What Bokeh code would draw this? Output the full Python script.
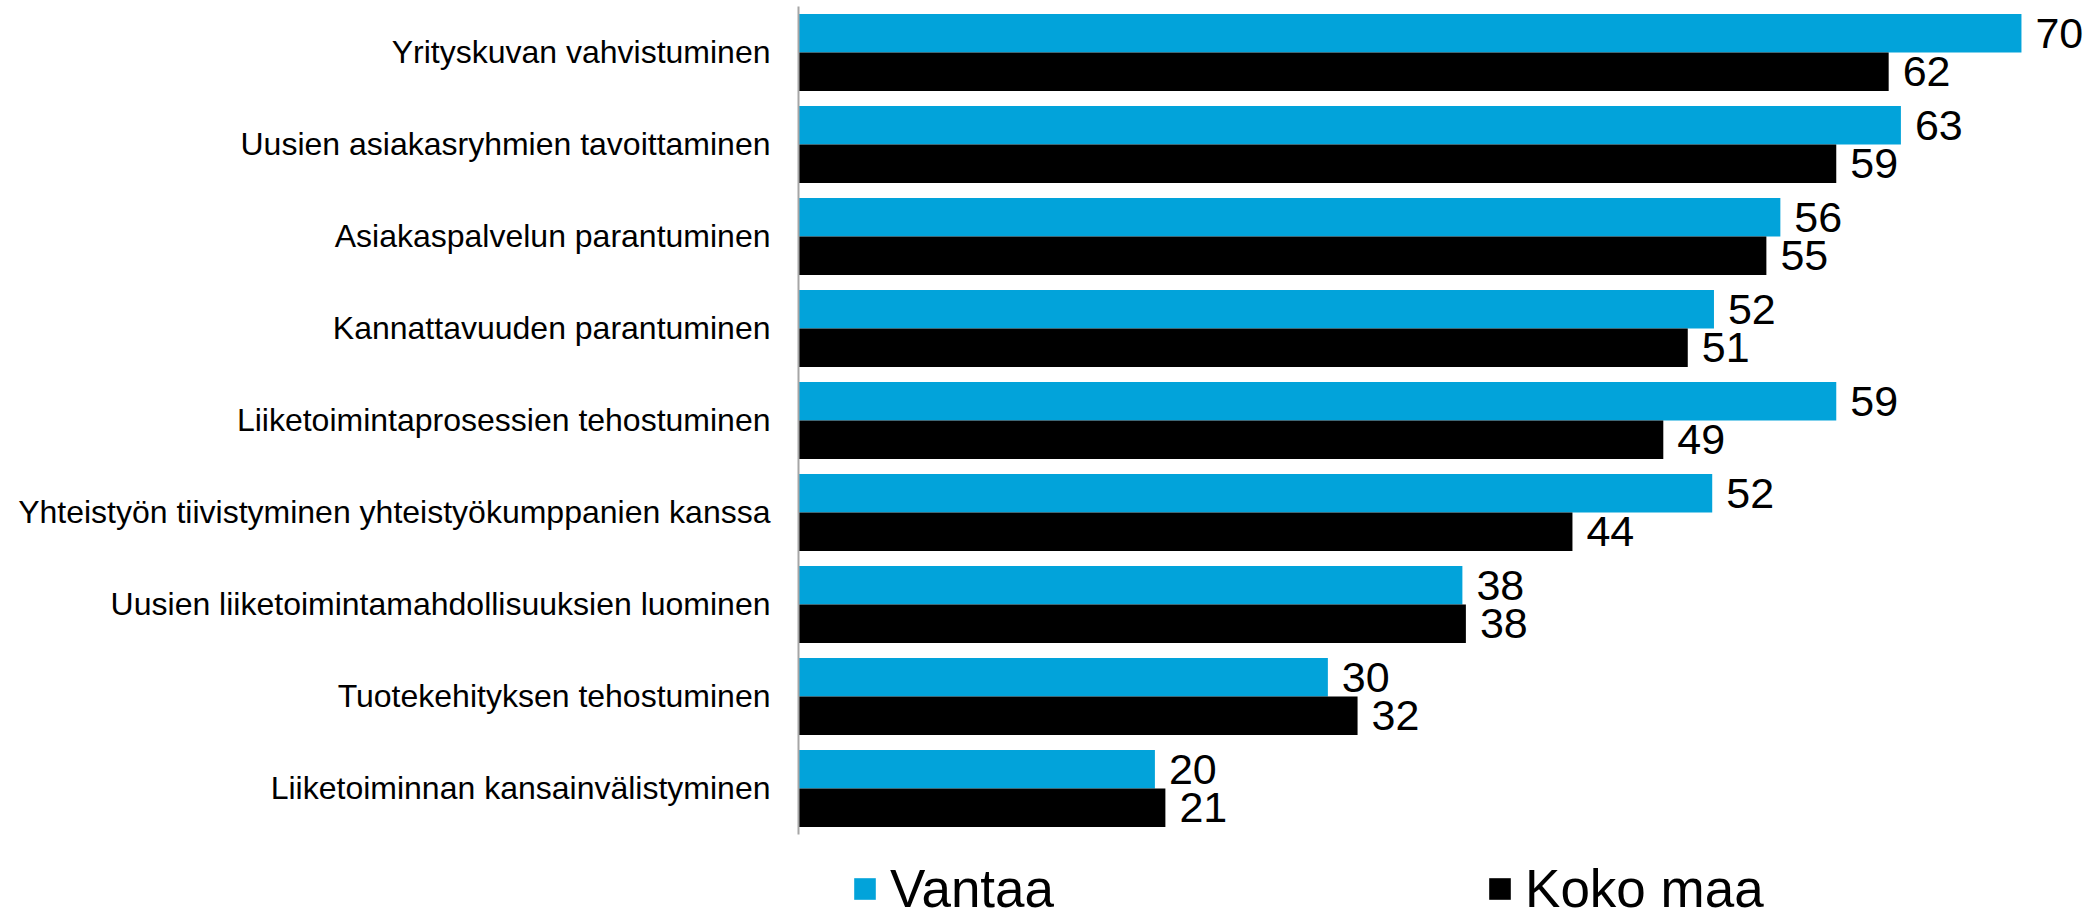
from bokeh.plotting import figure
from bokeh.models import ColumnDataSource, Range1d, LabelSet, Legend, LegendItem, FixedTicker
from bokeh.transform import dodge
from bokeh.core.properties import value
from bokeh.embed import file_html
from bokeh.resources import INLINE

categories = [
    "Yrityskuvan vahvistuminen",
    "Uusien asiakasryhmien tavoittaminen",
    "Asiakaspalvelun parantuminen",
    "Kannattavuuden parantuminen",
    "Liiketoimintaprosessien tehostuminen",
    "Yhteistyön tiivistyminen yhteistyökumppanien kanssa",
    "Uusien liiketoimintamahdollisuuksien luominen",
    "Tuotekehityksen tehostuminen",
    "Liiketoiminnan kansainvälistyminen",
]
vantaa = [70.0, 63.1, 56.2, 52.4, 59.4, 52.3, 38.0, 30.3, 20.4]
koko_maa = [62.4, 59.4, 55.4, 50.9, 49.5, 44.3, 38.2, 32.0, 21.0]
vantaa_labels = ["70", "63", "56", "52", "59", "52", "38", "30", "20"]
koko_maa_labels = ["62", "59", "55", "51", "49", "44", "38", "32", "21"]
series_names = ["Vantaa", "Koko maa"]

BLUE = "#02A3DA"
BLACK = "#000000"
FONT = "Liberation Sans"

n = len(categories)
pos = [n - 1 - i for i in range(n)]  # top category highest
src = ColumnDataSource(dict(pos=pos, v=vantaa, k=koko_maa,
                            vl=vantaa_labels, kl=koko_maa_labels))

p = figure(width=2098, height=919, output_backend="svg", toolbar_location=None,
           y_range=Range1d(-1.424, n - 0.5),
           x_range=Range1d(0, 74.41),
           min_border_left=798, min_border_right=0, min_border_top=6, min_border_bottom=0)

bh = 0.417
off = 0.2087
r1 = p.hbar(y=dodge("pos", off), right="v", left=0, height=bh,
            source=src, fill_color=BLUE, line_color=None)
r2 = p.hbar(y=dodge("pos", -off), right="k", left=0, height=bh,
            source=src, fill_color=BLACK, line_color=None)

for col, lab, o in (("v", "vl", off), ("k", "kl", -off)):
    ls = LabelSet(x=col, y=dodge("pos", o), text=lab, source=src,
                  x_offset=14, text_baseline="middle", text_align="left",
                  text_font=value(FONT), text_font_size="43px", text_color="black")
    p.add_layout(ls)

p.xaxis.visible = False
p.xgrid.visible = False
p.ygrid.visible = False
p.outline_line_color = None
yax = p.yaxis[0]
yax.ticker = FixedTicker(ticks=pos)
yax.major_label_overrides = {pp: c for pp, c in zip(pos, categories)}
yax.bounds = (-0.5, n - 0.5)
yax.axis_line_color = "#A6A6A6"
yax.axis_line_width = 2
yax.major_tick_line_color = None
yax.minor_tick_line_color = None
yax.major_label_standoff = 22
yax.major_label_text_font = FONT
yax.major_label_text_font_size = "32px"
yax.major_label_text_color = "black"

legend = Legend(items=[LegendItem(label=series_names[0], renderers=[r1]),
                       LegendItem(label=series_names[1], renderers=[r2])],
                orientation="horizontal", location=(53, 0),
                glyph_width=27, glyph_height=27, label_standoff=12, spacing=432,
                padding=0, margin=0, border_line_color=None, background_fill_alpha=0,
                label_text_font=FONT, label_text_font_size="53px", label_text_color="black")
p.add_layout(legend, "center")

open("out.html", "w").write(file_html(p, INLINE))
